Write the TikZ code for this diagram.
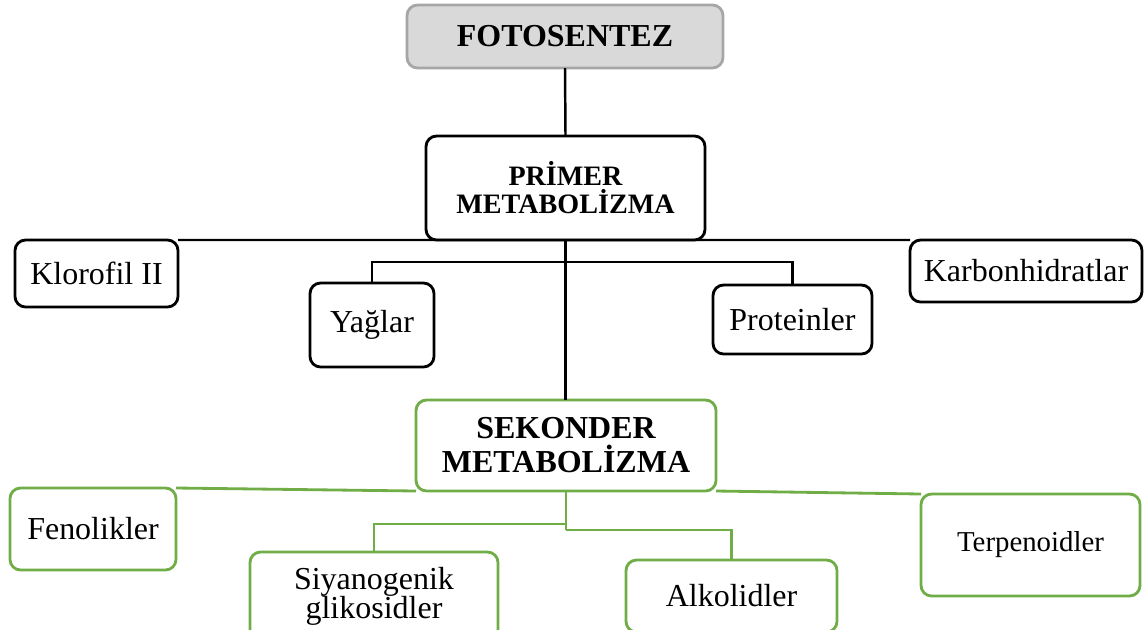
\documentclass[tikz,border=0pt]{standalone}
\usepackage{fontspec}
\setmainfont{Liberation Serif}
\definecolor{yesil}{HTML}{70AD47}
\definecolor{griacik}{HTML}{D9D9D9}
\definecolor{gricizgi}{HTML}{A6A6A6}

\begin{document}
\begin{tikzpicture}[
	kutu/.style={draw=black,line width=0.8pt,rounded corners=3pt,fill=white,align=center,inner sep=0pt,outer sep=0pt,font=\fontsize{9.1}{10}\selectfont},
	yesilkutu/.style={kutu,draw=yesil},
	baglanti/.style={line width=0.7pt},
	yesilbag/.style={line width=0.8pt,draw=yesil}
	]
		\useasboundingbox (0,0) rectangle (11.44,-6.29);
		\clip (0,0) rectangle (11.44,-6.29);
		
		\node[kutu,fill=griacik,draw=gricizgi,font=\bfseries\fontsize{9.1}{10}\selectfont,minimum width=3.16cm,minimum height=0.63cm] (fotosentez) at (5.65,-0.365) {FOTOSENTEZ};
		\node[kutu,font=\bfseries\fontsize{8}{8}\selectfont,minimum width=2.79cm,minimum height=1.04cm] (primer) at (5.655,-1.88) {PRİMER\\METABOLİZMA};
		\node[kutu,minimum width=1.63cm,minimum height=0.67cm] (klorofil) at (0.965,-2.735) {Klorofil II};
		\node[kutu,minimum width=2.32cm,minimum height=0.62cm] (karbon) at (10.26,-2.71) {Karbonhidratlar};
		\node[kutu,minimum width=1.24cm,minimum height=0.84cm] (yaglar) at (3.72,-3.25) {Yağlar};
		\node[kutu,minimum width=1.59cm,minimum height=0.69cm] (protein) at (7.925,-3.195) {Proteinler};
		
		\node[yesilkutu,font=\bfseries\fontsize{9.1}{9.7}\selectfont,minimum width=3cm,minimum height=0.91cm] (sekonder) at (5.66,-4.455) {SEKONDER\\METABOLİZMA};
		\node[yesilkutu,minimum width=1.66cm,minimum height=0.82cm] (fenol) at (0.93,-5.29) {Fenolikler};
		\node[yesilkutu,font=\fontsize{8.2}{9}\selectfont,minimum width=2.19cm,minimum height=1.02cm] (terpen) at (10.305,-5.45) {Terpenoidler};
		\node[yesilkutu,font=\fontsize{9.1}{8.3}\selectfont,minimum width=2.48cm,minimum height=0.88cm] (siyano) at (3.74,-5.96) {Siyanogenik\\glikosidler};
		\node[yesilkutu,minimum width=2.11cm,minimum height=0.72cm] (alkol) at (7.315,-5.96) {Alkolidler};
		
		\coordinate (ybar) at (5.66,-2.62);
		\coordinate (sol) at (5.66,-5.24);
		\coordinate (sag) at (5.66,-5.30);
		
		\draw[baglanti] (fotosentez.south) -- (primer.north);
		\draw[baglanti] (klorofil.north east) -- (karbon.north west);
		\draw[baglanti] (primer.south) -- (primer.south |- sekonder.north);
		\draw[baglanti] (yaglar.north) |- (ybar) -| (protein.north);
		
		\draw[yesilbag] (fenol.north east) -- (sekonder.south west);
		\draw[yesilbag] (sekonder.south east) -- (terpen.north west);
		\draw[yesilbag] (sekonder.south) -- (sag);
		\draw[yesilbag] (sol) -| (siyano.north);
		\draw[yesilbag] (sag) -| (alkol.north);
	\end{tikzpicture}
\end{document}
